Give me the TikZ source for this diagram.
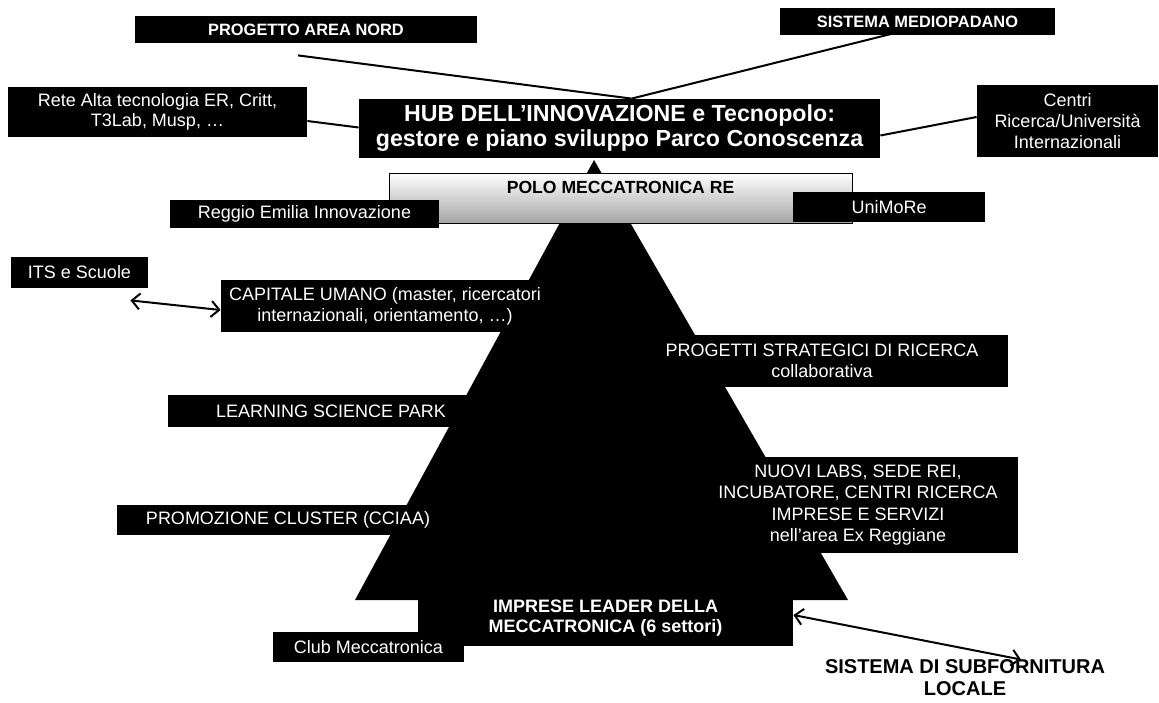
\documentclass[tikz,border=0pt]{standalone}
\usepackage{fontspec}
\setmainfont{Liberation Sans}
\usetikzlibrary{arrows.meta, calc}

\begin{document}
\begin{tikzpicture}[x=0.5pt,y=-0.5pt,>={Straight Barb[length=4pt,width=8pt]},
  box/.style={fill=black,text=white,inner sep=0pt,align=center,
    font=\fontsize{9}{10.5}\selectfont},
  boldbox/.style={box,font=\fontsize{8.2}{10}\selectfont\bfseries},
  link/.style={line width=1pt}]
  \useasboundingbox (0,0) rectangle (1159,702);
  % the pyramid sits behind all boxes
  \fill (355,600) -- (594,160) -- (848,600) -- cycle;

  % top row
  \node[boldbox,minimum width=171pt,minimum height=13.5pt] (progetto) at (306,29.5) {PROGETTO AREA NORD};
  \node[boldbox,minimum width=137.5pt,minimum height=13.5pt] (sistema) at (917.5,21.5) {SISTEMA MEDIOPADANO};
  \node[box,minimum width=149.5pt,minimum height=25pt,font=\fontsize{9}{9.8}\selectfont] (rete) at (157.5,112)
    {Rete Alta tecnologia ER, Critt,\\T3Lab, Musp, …};
  \node[box,minimum width=260.5pt,minimum height=29.5pt,font=\fontsize{11.6}{12.5}\selectfont\bfseries] (hub) at (619.5,128.5)
    {HUB DELL’INNOVAZIONE e Tecnopolo:\\gestore e piano sviluppo Parco Conoscenza};
  \node[box,minimum width=90.5pt,minimum height=36pt] (centri) at (1067.5,121)
    {Centri\\Ricerca/Università\\Internazionali};

  % polo with its partners
  \node[draw,line width=0.5pt,top color=white,middle color=white,bottom color=black!35,
    minimum width=231.5pt,inner sep=0pt,text height=10pt,text depth=15pt,
    font=\fontsize{8.8}{10}\selectfont\bfseries] (polo) at (620.5,198) {POLO MECCATRONICA RE};
  \node[box,minimum width=134.5pt,minimum height=14pt] (reggio) at (304.5,214) {Reggio Emilia Innovazione};
  \node[box,minimum width=96pt,minimum height=15pt] (unimore) at (889,207) {UniMoRe};

  % boxes along the pyramid
  \node[box,minimum width=68.5pt,minimum height=15.5pt] (its) at (79.5,272.5) {ITS e Scuole};
  \node[box,minimum width=164pt,minimum height=26pt] (capitale) at (385,306)
    {CAPITALE UMANO (master, ricercatori\\internazionali, orientamento, …)};
  \node[box,minimum width=186pt,minimum height=26pt] (progetti) at (822,361)
    {PROGETTI STRATEGICI DI RICERCA\\collaborativa};
  \node[box,minimum width=163pt,minimum height=16pt] (learning) at (331,411) {LEARNING SCIENCE PARK};
  \node[box,minimum width=160pt,minimum height=48pt,font=\fontsize{9}{10.8}\selectfont] (nuovi) at (858,505)
    {NUOVI LABS, SEDE REI,\\INCUBATORE, CENTRI RICERCA\\IMPRESE E SERVIZI\\nell'area Ex Reggiane};
  \node[box,minimum width=171pt,minimum height=15pt] (promozione) at (288,520) {PROMOZIONE CLUSTER (CCIAA)};
  \node[box,minimum width=187.5pt,minimum height=28pt,font=\fontsize{9}{10}\selectfont\bfseries] (impresa) at (605.5,618)
    {IMPRESE LEADER DELLA\\MECCATRONICA (6 settori)};
  \node[box,minimum width=95.5pt,minimum height=15pt] (club) at (368.5,647) {Club Meccatronica};
  \node[inner sep=0pt,align=center,font=\fontsize{10}{11}\selectfont\bfseries] (subf) at (965,678)
    {SISTEMA DI SUBFORNITURA\\LOCALE};

  % connectors
  \coordinate (hubtop) at ($(hub.north)+(12,0)$);
  \coordinate (itstip) at ($(its.south east)+(-18,12)$);
  \coordinate (subtip) at ($(subf.north)+(56,0)$);
  \draw[link] ($(progetto.south)+(-8,12)$) -- (hubtop);
  \draw[link] ($(sistema.south)+(-24,-2)$) -- (hubtop);
  \draw[link] ($(rete.east)+(0,9)$) -- ($(hub.west)+(0,-1)$);
  \draw[link] ($(hub.east)+(0,7)$) -- ($(centri.west)+(0,-4)$);
  \draw[link,<->] (itstip) -- ($(capitale.west)+(0,4)$);
  \draw[link,<->] ($(impresa.east)+(0,-3)$) -- (subtip);
\end{tikzpicture}
\end{document}
